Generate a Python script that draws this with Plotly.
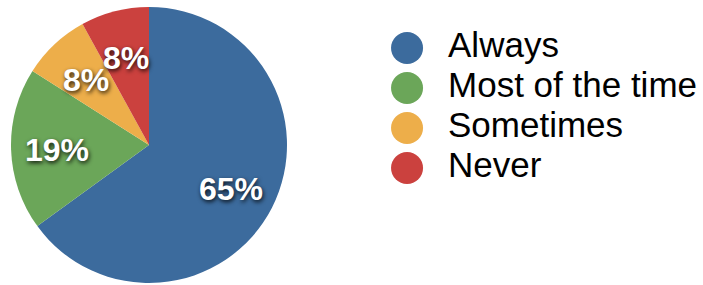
import math
import plotly.graph_objects as go

categories = ["Always", "Most of the time", "Sometimes", "Never"]
values = [65, 19, 8, 8]
colors = ["#3C6B9D", "#6BA659", "#EDAE4A", "#CB413E"]

total = sum(values)
pct_labels = [f"{round(v / total * 100)}%" for v in values]
# slice mid-angles (degrees clockwise from top), derived from the data
mid_angles = []
acc = 0
for v in values:
    mid_angles.append((acc + v / 2) / total * 360)
    acc += v
label_radius = 0.665

pie_domain = dict(x=[11 / 703, 287 / 703], y=[2 / 285, 278 / 285])

fig = go.Figure()

fig.add_trace(go.Pie(
    labels=categories,
    values=values,
    sort=False,
    direction="clockwise",
    rotation=0,
    marker=dict(colors=colors, line=dict(width=0)),
    textinfo="none",
    showlegend=False,
    hoverinfo="skip",
    domain=pie_domain,
))

# percentage labels on the slice bisectors (unit-circle axes over the pie)
for ang, txt in zip(mid_angles, pct_labels):
    rad = math.radians(ang)
    fig.add_annotation(
        x=label_radius * math.sin(rad), y=label_radius * math.cos(rad),
        xref="x2", yref="y2", text=txt, showarrow=False,
        xanchor="center", yanchor="middle", yshift=-2,
        font=dict(family="Liberation Sans", size=32, color="white", weight="bold",
                  shadow="1px 2px 4px rgba(0,0,0,0.85)"),
    )

# Legend drawn as scatter markers + labels
fig.add_trace(go.Scatter(
    x=[0] * len(categories), y=categories, mode="markers",
    marker=dict(size=32, color=colors, line=dict(width=0)),
    xaxis="x", yaxis="y", showlegend=False, hoverinfo="skip",
))
fig.add_trace(go.Scatter(
    x=[1] * len(categories), y=categories, mode="text", text=categories,
    textposition="middle right",
    textfont=dict(family="Liberation Sans", size=35, color="black"),
    xaxis="x", yaxis="y", showlegend=False, hoverinfo="skip",
))

fig.update_layout(
    width=703, height=285,
    margin=dict(l=0, r=0, t=0, b=0),
    paper_bgcolor="white", plot_bgcolor="rgba(0,0,0,0)",
    xaxis=dict(domain=[0, 1], range=[-9.93, 7.22], visible=False, fixedrange=True),
    yaxis=dict(domain=[0, 1], range=[5.925, -1.2], visible=False, fixedrange=True),
    xaxis2=dict(domain=pie_domain["x"], range=[-1, 1], visible=False, fixedrange=True),
    yaxis2=dict(domain=pie_domain["y"], range=[-1, 1], visible=False, fixedrange=True),
)

fig.write_html("out.html", post_script="document.body.style.margin='0';",
               config={"displayModeBar": False})
